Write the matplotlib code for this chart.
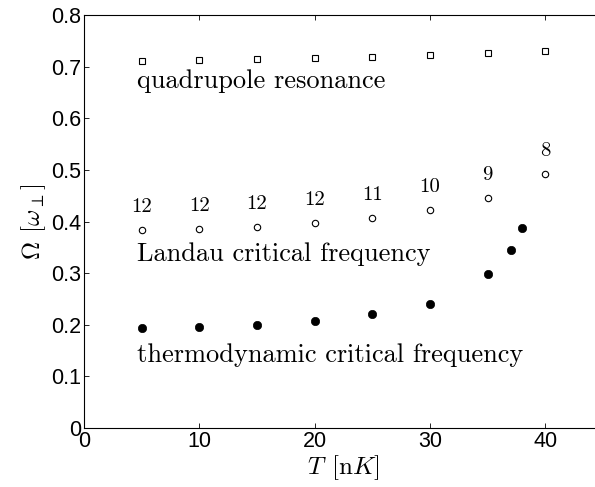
import numpy as np
import matplotlib
matplotlib.use("Agg")
import matplotlib.pyplot as plt

plt.rcParams['mathtext.fontset'] = 'cm'
plt.rcParams['font.family'] = ['Liberation Sans', 'DejaVu Sans']

# temperatures [nK]
T = [5, 10, 15, 20, 25, 30, 35, 40]
T_thermo = [5, 10, 15, 20, 25, 30, 35, 37, 38]

# frequencies [omega_perp]
quad = [0.711, 0.713, 0.715, 0.716, 0.719, 0.722, 0.726, 0.731]
landau = [0.3835, 0.386, 0.390, 0.3965, 0.406, 0.422, 0.4455, 0.493]
thermo = [0.193, 0.195, 0.200, 0.208, 0.220, 0.241, 0.298, 0.345, 0.387]
vortex_n = ['12', '12', '12', '12', '11', '10', '9', '8']

fig = plt.figure(figsize=(5.95, 4.87), dpi=100)
ax = fig.add_axes([0.1412, 0.1211, 0.8723, 0.848])

ax.plot(T, quad, 's', mfc='white', mec='black', ms=4, mew=0.8)
ax.plot(T, landau, 'o', mfc='white', mec='black', ms=4.6, mew=0.8)
ax.plot(T_thermo, thermo, 'o', mfc='black', mec='black', ms=6, mew=0.5)

for t, v, n in zip(T, landau, vortex_n):
    ax.annotate(n, (t, v), xytext=(0, 16.5), textcoords='offset points',
                ha='center', va='center', family='cmr10', fontsize=15)

ax.text(4.6, 0.6586, 'quadrupole resonance', family='cmr10', fontsize=19)
ax.text(4.6, 0.324, 'Landau critical frequency', family='cmr10', fontsize=19)
ax.text(4.6, 0.1284, 'thermodynamic critical frequency', family='cmr10', fontsize=19)

ax.set_xlim(0, 45)
ax.set_ylim(0, 0.8)
ax.set_xticks([0, 10, 20, 30, 40])
ax.set_yticks(np.arange(0, 0.81, 0.1))
ax.set_yticklabels(['0', '0.1', '0.2', '0.3', '0.4', '0.5', '0.6', '0.7', '0.8'])
ax.tick_params(direction='in', length=3.6, width=0.6, labelsize=15.5, pad=2,
               top=True, right=True)
for s in ax.spines.values():
    s.set_linewidth(0.8)

ax.set_xlabel(r'$T\;\,[\mathrm{n}K]$', fontsize=18, labelpad=1)
ax.set_ylabel(r'$\Omega\;\,[\omega_\perp]$', fontsize=18, labelpad=2)

fig.savefig('out.png', dpi=100)
